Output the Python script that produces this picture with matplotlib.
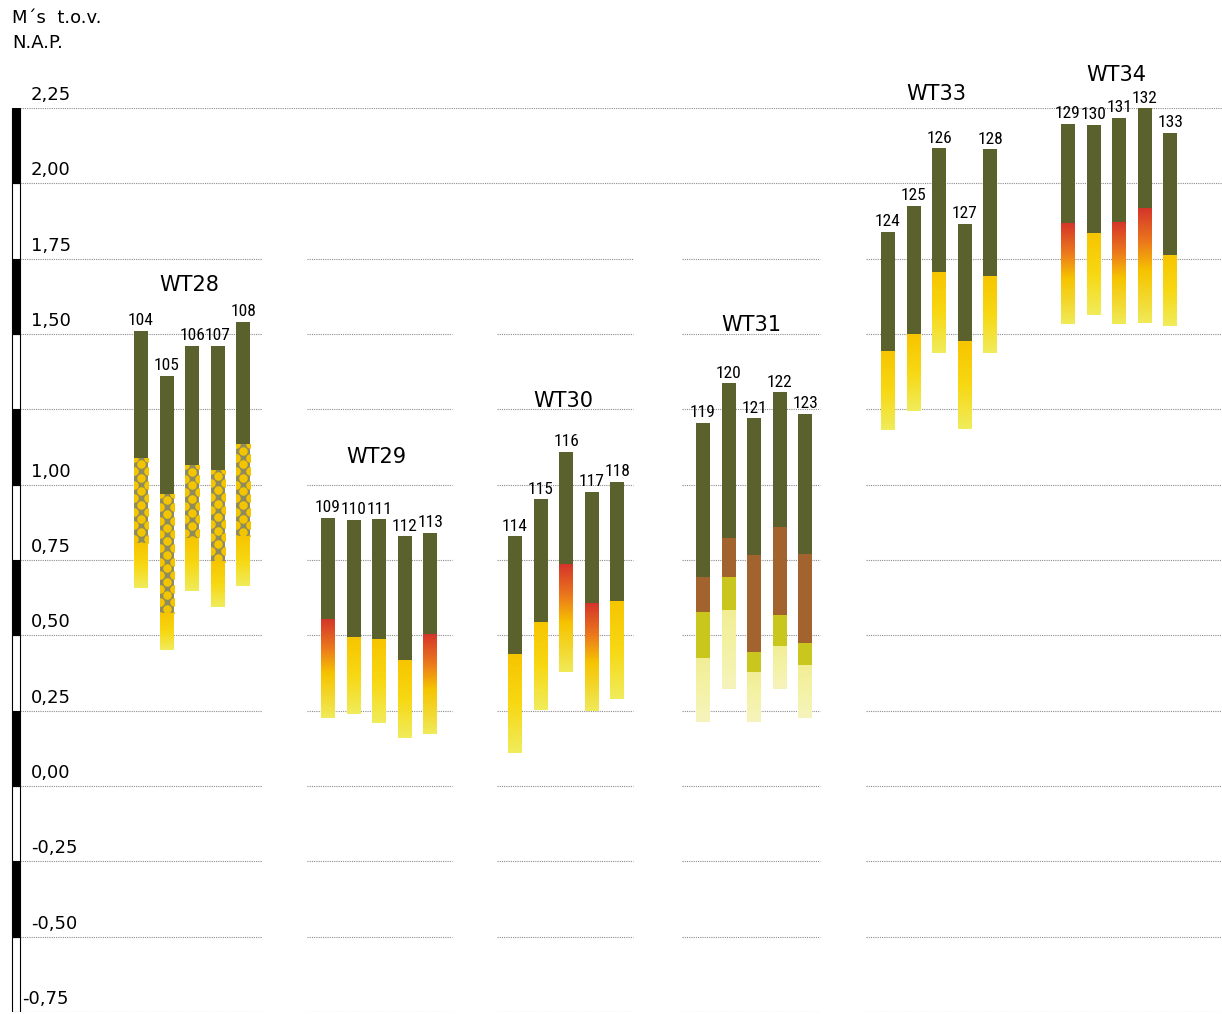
import numpy as np
import matplotlib.pyplot as plt
from matplotlib import font_manager as fm
from matplotlib.colors import LinearSegmentedColormap

# --- data: level (m N.A.P.) of each layer boundary per boring ---
wt28_ids = [104, 105, 106, 107, 108]
wt28_top = [1.51, 1.36, 1.46, 1.46, 1.54]
wt28_clay = [1.09, 0.97, 1.065, 1.05, 1.135]
wt28_gravel = [0.805, 0.573, 0.822, 0.745, 0.828]
wt28_base = [0.656, 0.451, 0.648, 0.595, 0.664]

wt29_ids = [109, 110, 111, 112, 113]
wt29_top = [0.891, 0.883, 0.885, 0.828, 0.841]
wt29_clay = [0.553, 0.493, 0.484, 0.415, 0.501]
wt29_base = [0.225, 0.238, 0.208, 0.158, 0.172]
wt29_oxid = [True, False, False, False, True]

wt30_ids = [114, 115, 116, 117, 118]
wt30_top = [0.828, 0.951, 1.109, 0.977, 1.010]
wt30_clay = [0.435, 0.543, 0.733, 0.606, 0.612]
wt30_base = [0.108, 0.252, 0.377, 0.249, 0.288]
wt30_oxid = [False, False, True, True, False]

wt31_ids = [119, 120, 121, 122, 123]
wt31_top = [1.206, 1.336, 1.220, 1.306, 1.234]
wt31_clay = [0.695, 0.822, 0.767, 0.861, 0.770]
wt31_peat = [0.579, 0.695, 0.446, 0.568, 0.474]
wt31_loam = [0.424, 0.581, 0.374, 0.463, 0.398]
wt31_base = [0.214, 0.321, 0.211, 0.321, 0.225]

wt33_ids = [124, 125, 126, 127, 128]
wt33_top = [1.840, 1.926, 2.116, 1.865, 2.113]
wt33_clay = [1.441, 1.497, 1.704, 1.475, 1.690]
wt33_base = [1.181, 1.244, 1.436, 1.184, 1.436]

wt34_ids = [129, 130, 131, 132, 133]
wt34_top = [2.197, 2.194, 2.218, 2.249, 2.168]
wt34_clay = [1.865, 1.832, 1.869, 1.919, 1.760]
wt34_base = [1.532, 1.563, 1.532, 1.538, 1.525]
wt34_oxid = [True, False, True, True, False]

groups = ['WT28', 'WT29', 'WT30', 'WT31', 'WT33', 'WT34']
y_ticks = [-0.75, -0.50, -0.25, 0.00, 0.25, 0.50, 0.75, 1.00, 1.25, 1.50, 1.75, 2.00, 2.25]
tick_labels = ['-0,75', '-0,50', '-0,25', '0,00', '0,25', '0,50', '0,75', '1,00', '', '1,50', '1,75', '2,00', '2,25']

# --- layout ---
W, H = 1222, 1014
group_x = [141, 328, 515, 703, 888, 1068]
bar_step = 25.6
bar_w = 14
group_label_y = [1.663, 1.092, 1.278, 1.530, 2.296, 2.359]
grid_spans = [(20, 262), (307, 452), (497, 633), (682, 820), (866, 1222)]

GREEN = '#5b612c'
BROWN = '#a3632f'
LIME = '#c9c61e'
DOTBASE = '#8f8b5c'
DOT = '#f3c400'

yellow_cm = LinearSegmentedColormap.from_list('yel', ['#f6c500', '#f7d813', '#f0ec5c'])
red_cm = LinearSegmentedColormap.from_list(
    'red', [(0, '#d5352a'), (0.3, '#ec7a1c'), (0.55, '#f6c400'), (1, '#f0ea58')])
pale_cm = LinearSegmentedColormap.from_list('pale', ['#f2ee96', '#f4f2a6', '#f6f4bd'])

# narrow face for the boring numbers, whichever is installed
entries = fm.fontManager.ttflist
num_font = dict(family='DejaVu Sans', fontsize=9.5)
if any(f.name == 'Liberation Sans Narrow' for f in entries):
    num_font = dict(family='Liberation Sans Narrow', fontsize=12.5)
elif any(f.name == 'Roboto Condensed' for f in entries):
    num_font = dict(family='Roboto Condensed', fontsize=12.5)
else:
    for fam in ['DejaVu Sans', 'Noto Sans', 'Open Sans', 'Roboto', 'Liberation Sans']:
        if any(f.name == fam and 'condensed' in str(f.stretch) for f in entries):
            num_font = dict(family=fam, fontstretch='condensed', fontsize=12)
            break

fig = plt.figure(figsize=(W / 100, H / 100), dpi=100)
ax = fig.add_axes([0, 2 / H, 1, 904 / H])
ax.set_xlim(0, W)
ax.set_ylim(-0.75, 2.25)
ax.axis('off')


def solid(x, top, bot, color):
    ax.bar(x, top - bot, bottom=bot, width=bar_w, color=color, lw=0, zorder=3)


def gradient(x, top, bot, cmap):
    g = np.linspace(0, 1, 256).reshape(-1, 1)
    ax.imshow(g, cmap=cmap, extent=[x - bar_w / 2, x + bar_w / 2, bot, top],
              aspect='auto', origin='upper', interpolation='bilinear', zorder=3)


def dotted(x, top, bot):
    r = ax.bar(x, top - bot, bottom=bot, width=bar_w, color=DOTBASE, lw=0, zorder=3)[0]
    step = 0.045
    yc = np.arange(top - step / 2, bot - step, -step)
    ys = np.arange(top, bot - step, -step)
    pts = ax.scatter(np.full(len(yc), x), yc, s=38, color=DOT, lw=0, zorder=4)
    side = ax.scatter(np.concatenate([np.full(len(ys), x - bar_w / 2), np.full(len(ys), x + bar_w / 2)]),
                      np.concatenate([ys, ys]), s=38, color=DOT, lw=0, zorder=4)
    pts.set_clip_path(r)
    side.set_clip_path(r)


def label(x, top, num):
    ax.annotate(str(num), (x, top), xytext=(0, 2), textcoords='offset points',
                ha='center', va='bottom', zorder=5, **num_font)


# gridlines, broken between the groups
for lv in y_ticks:
    if lv >= 2.0:
        spans = [(20, 1222)]
    elif lv == 1.75:
        spans = [(20, 262), (307, 633), (682, 820), (866, 1222)]
    else:
        spans = grid_spans
    for a, b in spans:
        ax.hlines(lv, a, b, colors='#8c8c8c', linestyles=(0, (1, 1)), lw=0.8, zorder=1)

# black/white level bar
for k in range(len(y_ticks) - 1):
    ax.bar(16, 0.25, bottom=y_ticks[k], width=8, color='black' if k % 2 else 'white',
           edgecolor='black', lw=0.8, zorder=2)

for lv, t in zip(y_ticks, tick_labels):
    ax.text(22 if lv < -0.5 else 31, lv + 0.027, t, fontsize=13, ha='left', va='baseline',
            family='DejaVu Sans')

fig.text(12 / W, 1 - 9 / H, 'M\u00b4s  t.o.v.\nN.A.P.', fontsize=13, ha='left', va='top',
         linespacing=1.5)

# WT28
for i in range(5):
    x = group_x[0] + i * bar_step
    solid(x, wt28_top[i], wt28_clay[i], GREEN)
    dotted(x, wt28_clay[i], wt28_gravel[i])
    gradient(x, wt28_gravel[i], wt28_base[i], yellow_cm)
    label(x, wt28_top[i], wt28_ids[i])

# WT29, WT30
for g, ids, top, clay, base, ox in [(1, wt29_ids, wt29_top, wt29_clay, wt29_base, wt29_oxid),
                                    (2, wt30_ids, wt30_top, wt30_clay, wt30_base, wt30_oxid)]:
    for i in range(5):
        x = group_x[g] + i * bar_step
        solid(x, top[i], clay[i], GREEN)
        gradient(x, clay[i], base[i], red_cm if ox[i] else yellow_cm)
        label(x, top[i], ids[i])

# WT31
for i in range(5):
    x = group_x[3] + i * bar_step
    solid(x, wt31_top[i], wt31_clay[i], GREEN)
    solid(x, wt31_clay[i], wt31_peat[i], BROWN)
    solid(x, wt31_peat[i], wt31_loam[i], LIME)
    gradient(x, wt31_loam[i], wt31_base[i], pale_cm)
    label(x, wt31_top[i], wt31_ids[i])

# WT33
for i in range(5):
    x = group_x[4] + i * bar_step
    solid(x, wt33_top[i], wt33_clay[i], GREEN)
    gradient(x, wt33_clay[i], wt33_base[i], yellow_cm)
    label(x, wt33_top[i], wt33_ids[i])

# WT34
for i in range(5):
    x = group_x[5] + i * bar_step
    solid(x, wt34_top[i], wt34_clay[i], GREEN)
    gradient(x, wt34_clay[i], wt34_base[i], red_cm if wt34_oxid[i] else yellow_cm)
    label(x, wt34_top[i], wt34_ids[i])

for g, name in enumerate(groups):
    ax.text(group_x[g] + 2 * bar_step - 3, group_label_y[g], name, fontsize=15,
            ha='center', va='center', zorder=5, clip_on=False)

ax.set_xlim(0, W)
ax.set_ylim(-0.75, 2.25)
fig.savefig('out.png', dpi=100)
